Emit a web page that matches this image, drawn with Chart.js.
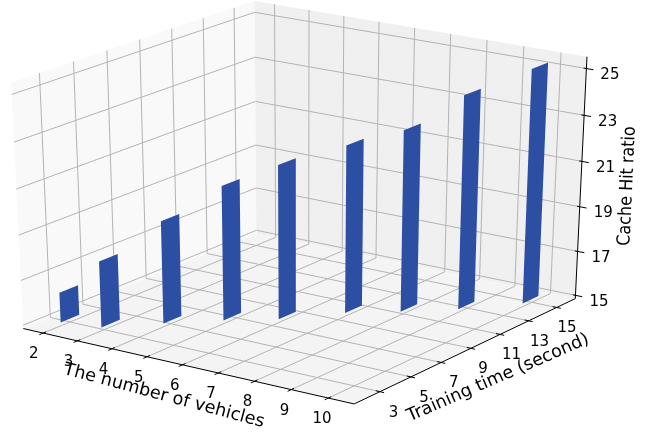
<!DOCTYPE html>
<html>
<head>
<meta charset="utf-8">
<style>
  html, body { margin: 0; background: #fff; }
  canvas { display: block; }
</style>
<script src="https://cdn.jsdelivr.net/npm/chart.js@4/dist/chart.umd.min.js"></script>
</head>
<body>
<canvas id="chart" width="648" height="433"></canvas>
<script>
const vehicles = [2, 3, 4, 5, 6, 7, 8, 9, 10];
const trainingTime = [3.0, 3.4, 5.1, 6.7, 8.0, 10.05, 11.4, 12.9, 14.9];
const hitRatio = [16.34, 17.94, 19.54, 20.94, 21.79, 22.39, 22.99, 24.38, 25.28];

const xTicks = [2, 3, 4, 5, 6, 7, 8, 9, 10];
const yTicks = [3, 5, 7, 9, 11, 13, 15];
const zTicks = [15, 17, 19, 21, 23, 25];

const xLim = [1.416, 10.69];
const yLim = [1.367, 16.35];
const zLim = [14.85, 25.5];
const barBase = 15;
const barDepth = 1.13;

// same view as the mplot3d figure: elev 25, azim -55, dist 10
const elev = 25 * Math.PI / 180;
const azim = -55 * Math.PI / 180;
const dist = 10;
const n = [Math.cos(elev) * Math.cos(azim), Math.cos(elev) * Math.sin(azim), Math.sin(elev)];
const uLen = Math.hypot(n[0], n[1]);
const u = [-n[1] / uLen, n[0] / uLen, 0];
const v = [n[1] * u[2] - n[2] * u[1], n[2] * u[0] - n[0] * u[2], n[0] * u[1] - n[1] * u[0]];
const dot = (a, b) => a[0] * b[0] + a[1] * b[1] + a[2] * b[2];

function project(fx, fy, fz) {
  const p = [fx - 0.5, fy - 0.5, fz - 0.5];
  const w = dist - dot(n, p);
  return { x: 302.3 + 4047 * dot(u, p) / w, y: 194 - 2691 * dot(v, p) / w };
}

const fracX = (val) => (val - xLim[0]) / (xLim[1] - xLim[0]);
const fracY = (val) => (val - yLim[0]) / (yLim[1] - yLim[0]);
const fracZ = (val) => (val - zLim[0]) / (zLim[1] - zLim[0]);

const datasets = [];
function addFill(points, color) {
  datasets.push({
    data: points.map((p) => project(p[0], p[1], p[2])),
    showLine: true, fill: "shape", backgroundColor: color,
    borderWidth: 0, pointRadius: 0, tension: 0
  });
}
function addLine(points, color, width) {
  datasets.push({
    data: points.map((p) => project(p[0], p[1], p[2])),
    showLine: true, fill: false, borderColor: color,
    borderWidth: width, pointRadius: 0, tension: 0
  });
}

// panes
addFill([[0, 0, 0], [0, 1, 0], [0, 1, 1], [0, 0, 1]], "#f8f9f8");
addFill([[0, 1, 0], [1, 1, 0], [1, 1, 1], [0, 1, 1]], "#f0f0f0");
addFill([[0, 0, 0], [1, 0, 0], [1, 1, 0], [0, 1, 0]], "#f4f4f4");

// grid
xTicks.forEach((t) => addLine([[fracX(t), 0, 0], [fracX(t), 1, 0], [fracX(t), 1, 1]], "#b4b4b4", 1));
yTicks.forEach((t) => addLine([[1, fracY(t), 0], [0, fracY(t), 0], [0, fracY(t), 1]], "#b4b4b4", 1));
zTicks.forEach((t) => addLine([[0, 0, fracZ(t)], [0, 1, fracZ(t)], [1, 1, fracZ(t)]], "#b4b4b4", 1));

// axis lines and tick marks
addLine([[0, 0, 0], [1, 0, 0]], "#000", 1);
addLine([[1, 0, 0], [1, 1, 0]], "#000", 1);
addLine([[1, 1, 0], [1, 1, 1]], "#000", 1);
xTicks.forEach((t) => addLine([[fracX(t), -0.015, 0], [fracX(t), 0.012, 0]], "#000", 1));
yTicks.forEach((t) => addLine([[1.012, fracY(t), 0], [0.988, fracY(t), 0]], "#000", 1));
zTicks.forEach((t) => addLine([[1.02, 1, fracZ(t)], [0.992, 1, fracZ(t)]], "#000", 1));

// bars, one flat face each
vehicles.forEach((x, i) => {
  const fx = fracX(x);
  const y0 = fracY(trainingTime[i] - barDepth / 2);
  const y1 = fracY(trainingTime[i] + barDepth / 2);
  const z0 = fracZ(barBase);
  const z1 = fracZ(hitRatio[i]);
  addFill([[fx, y0, z0], [fx, y1, z0], [fx, y1, z1], [fx, y0, z1]], "#2c4fa3");
});
datasets.forEach((d, i) => { d.order = -i; });

const textLabels = {
  id: "textLabels",
  afterDatasetsDraw(chart) {
    const ctx = chart.ctx;
    ctx.save();
    ctx.fillStyle = "#000";
    ctx.textAlign = "center";
    ctx.textBaseline = "middle";
    ctx.font = '15px "DejaVu Sans"';
    xTicks.forEach((t) => {
      const p = project(fracX(t), 0, 0);
      ctx.fillText(String(t), p.x - 9.5 + 3.5 * fracX(t), p.y + 21);
    });
    yTicks.forEach((t) => {
      const p = project(1, fracY(t), 0);
      ctx.fillText(String(t), p.x + 14 - 4 * fracY(t), p.y + 21);
    });
    zTicks.forEach((t) => {
      const p = project(1, 1, fracZ(t));
      ctx.fillText(String(t), p.x + 23.5, p.y + 6.5);
    });
    [
      ["The number of vehicles", 164, 396, 15, 17.6, 1],
      ["Training time (second)", 498, 378, -23.6, 17.6, 1],
      ["Cache Hit ratio", 627.5, 186, -87.6, 16, 1.13]
    ].forEach((t) => {
      ctx.save();
      ctx.font = t[4] + 'px "DejaVu Sans"';
      ctx.translate(t[1], t[2]);
      ctx.scale(t[5], 1);
      ctx.rotate(t[3] * Math.PI / 180);
      ctx.fillText(t[0], 0, 0);
      ctx.restore();
    });
    ctx.restore();
  }
};

new Chart(document.getElementById("chart").getContext("2d"), {
  type: "scatter",
  data: { datasets },
  plugins: [textLabels],
  options: {
    responsive: false,
    animation: false,
    events: [],
    layout: { padding: 0 },
    plugins: { legend: { display: false }, tooltip: { enabled: false } },
    scales: {
      x: { type: "linear", display: false, min: 0, max: 648 },
      y: { type: "linear", display: false, min: 0, max: 433, reverse: true }
    }
  }
});
</script>
</body>
</html>
